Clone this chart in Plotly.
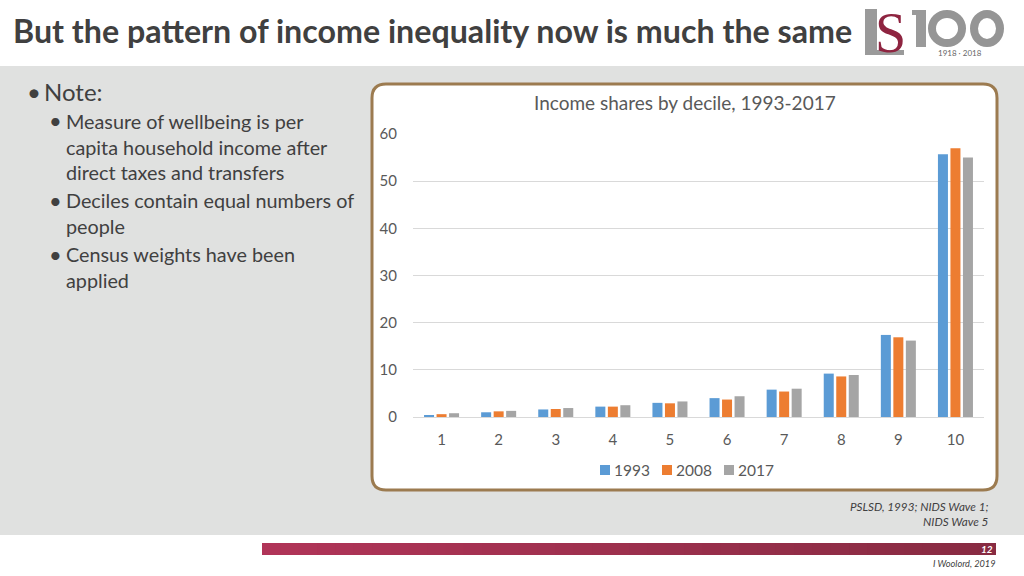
import plotly.graph_objects as go

deciles = ["1", "2", "3", "4", "5", "6", "7", "8", "9", "10"]
s1993 = [0.4, 1.0, 1.6, 2.2, 3.0, 4.0, 5.8, 9.2, 17.4, 55.7]
s2008 = [0.6, 1.2, 1.7, 2.2, 2.9, 3.7, 5.4, 8.6, 16.9, 57.0]
s2017 = [0.8, 1.3, 1.9, 2.5, 3.3, 4.4, 6.0, 8.9, 16.2, 55.0]
series = [("1993", s1993, "#5B9BD5"), ("2008", s2008, "#ED7D31"), ("2017", s2017, "#A5A5A5")]
y_ticks = [0, 10, 20, 30, 40, 50, 60]

W, H = 1024, 576
FONT = "Lato"
TXT = "#404040"
BODY = 19.8

fig = go.Figure()
for name, vals, col in series:
    fig.add_trace(go.Bar(name=name, x=deciles, y=vals, marker_color=col, marker_line_width=0,
                         showlegend=False))


def rect(x0, y0, x1, y1, fill, **kw):
    return dict(type="rect", xref="paper", yref="paper", x0=x0 / W, x1=x1 / W,
                y0=1 - y0 / H, y1=1 - y1 / H, fillcolor=fill, line_width=0, layer="below", **kw)


def note(x, y, text, size, color=TXT, anchor="left", **kw):
    return dict(xref="paper", yref="paper", x=x / W, y=1 - y / H, text=text, showarrow=False,
                xanchor=anchor, yanchor="middle", align=anchor,
                font=dict(family=kw.pop("family", FONT), size=size, color=color), **kw)


shapes = [rect(0, 66, W, 535, "#E0E1E0")]

# rounded chart panel
px0, py0, px1, py1, r = 372, 84, 997, 490, 14
def X(v): return v / W
def Y(v): return 1 - v / H
path = (f"M {X(px0+r)} {Y(py0)} L {X(px1-r)} {Y(py0)} Q {X(px1)} {Y(py0)} {X(px1)} {Y(py0+r)} "
        f"L {X(px1)} {Y(py1-r)} Q {X(px1)} {Y(py1)} {X(px1-r)} {Y(py1)} "
        f"L {X(px0+r)} {Y(py1)} Q {X(px0)} {Y(py1)} {X(px0)} {Y(py1-r)} "
        f"L {X(px0)} {Y(py0+r)} Q {X(px0)} {Y(py0)} {X(px0+r)} {Y(py0)} Z")
shapes.append(dict(type="path", xref="paper", yref="paper", path=path, fillcolor="#FFFFFF",
                   line=dict(color="#9C7B50", width=3), layer="below"))

# footer gradient bar
n = 40
c0, c1 = (176, 52, 88), (136, 43, 66)
for i in range(n):
    t = i / (n - 1)
    c = tuple(round(a + (b - a) * t) for a, b in zip(c0, c1))
    x1 = 996 if i == n - 1 else 262 + 734 * (i + 1) / n + 1
    shapes.append(rect(262 + 734 * i / n, 543, x1, 555, f"rgb{c}"))

# logo pieces
shapes.append(rect(865, 9, 877, 55, "#9A9A9A"))
shapes.append(rect(865, 50, 904, 55, "#9A9A9A"))
shapes.append(rect(916, 10, 926, 47, "#9A9A9A"))
shapes.append(rect(912, 10, 926, 15, "#9A9A9A"))
for a, b in [(932, 962), (974, 1000)]:
    shapes.append(dict(type="circle", xref="paper", yref="paper", x0=a / W, x1=b / W,
                       y0=1 - 43 / H, y1=1 - 14 / H, line=dict(color="#959595", width=8), layer="below"))

annotations = [
    note(11, 31, "<b>But the pattern of income inequality now is much the same</b>", 32.2, "#404040"),
    note(873, 33, "S", 56, "#8E2440", family="Liberation Serif"),
    note(936, 53, "1918 · 2018", 8, "#666666"),
    note(25, 91, "•", 24), note(42, 91, "Note:", 24),
    note(47, 121, "•", 22), note(64, 121, "Measure of wellbeing is per", BODY),
    note(64, 147, "capita household income after", BODY),
    note(64, 172, "direct taxes and transfers", BODY),
    note(47, 200, "•", 22), note(64, 200, "Deciles contain equal numbers of", BODY),
    note(64, 226, "people", BODY),
    note(47, 254, "•", 22), note(64, 254, "Census weights have been", BODY),
    note(64, 280, "applied", BODY),
    note(685, 103, "Income shares by decile, 1993-2017", 19, "#595959", anchor="center"),
    note(990, 506, "<i>PSLSD, 1993; NIDS Wave 1;</i>", 11.7, "#404040", anchor="right"),
    note(990, 521, "<i>NIDS Wave 5</i>", 11.7, "#404040", anchor="right"),
    note(995, 549, "<b><i>12</i></b>", 10, "#FFFFFF", anchor="right"),
    note(998, 563, "<i>I Woolord, 2019</i>", 9.2, "#404040", anchor="right"),
]

# legend row: one colour key and one label per series
for i, (name, _, col) in enumerate(series):
    x = 600 + 62 * i
    shapes.append(rect(x, 465, x + 10, 475, col))
    annotations.append(note(x + 12, 470, name, 15.5, "#595959"))

fig.update_layout(
    width=W, height=H, margin=dict(l=0, r=0, t=0, b=0, autoexpand=False), autosize=False,
    paper_bgcolor="#FFFFFF", plot_bgcolor="rgba(0,0,0,0)",
    barmode="group", bargap=0.343, bargroupgap=0.2,
    font=dict(family=FONT, color="#595959", size=16),
    shapes=shapes, annotations=annotations, showlegend=False,
    xaxis=dict(domain=[413 / W, 984 / W], type="category", range=[-0.5, 9.5], showgrid=False,
               showline=True, linecolor="#D9D9D9", linewidth=1, ticks="outside", ticklen=9,
               tickcolor="rgba(0,0,0,0)", tickfont=dict(size=15, color="#595959")),
    yaxis=dict(domain=[1 - 417 / H, 1 - 134 / H], range=[0, 60], tickvals=y_ticks, showgrid=True,
               gridcolor="#D9D9D9", gridwidth=1, zeroline=False, showline=False, ticks="outside",
               ticklen=12, tickcolor="rgba(0,0,0,0)", tickfont=dict(size=15, color="#595959")),
)
fig.write_html("out.html", config={"displayModeBar": False},
               post_script="document.body.style.margin='0';")
